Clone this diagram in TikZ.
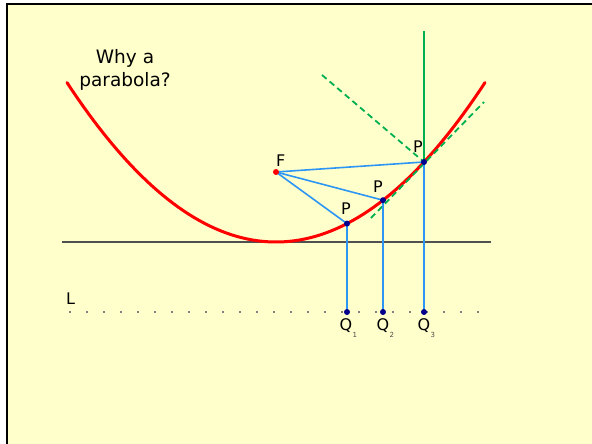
\documentclass[tikz,border=0pt]{standalone}
\usepackage{fontspec}
\setmainfont{DejaVu Sans}
\definecolor{bgyel}{RGB}{255,255,204}
\definecolor{raybl}{RGB}{45,150,245}
\definecolor{grnl}{RGB}{0,176,80}
\definecolor{navy}{RGB}{0,0,140}
\definecolor{hgray}{RGB}{80,80,80}
\begin{document}
\begin{tikzpicture}[x=1pt,y=-1pt,
  lbl/.style={font=\fontsize{16}{18}\selectfont, text=black, inner sep=0pt},
  sub/.style={font=\fontsize{7}{8}\selectfont, text=black!70, inner sep=0pt},
  ray/.style={draw=raybl, line width=1.6pt},
  grn/.style={draw=grnl, line width=2pt},
  pt/.style={circle, fill=navy, inner sep=0pt, minimum size=6pt}
]
\useasboundingbox (0,0) rectangle (592,444);
\fill[white] (0,0) rectangle (592,444);
\fill[bgyel] (7,4.5) rectangle (592,444);
\draw[black, line width=2pt] (7,444) -- (7,4.5) -- (592,4.5);

% title
\node[font=\fontsize{18.5}{23}\selectfont, align=center] (title) at (125,70) {Why a\\parabola?};

% tangent at vertex
\draw[hgray, line width=1.3pt] (62,242) coordinate (h1) -- (491,242) coordinate (h2);

% directrix
\coordinate (L1) at (69,312);
\coordinate (L2) at (490,312);
\draw[gray, line width=1.6pt, dash pattern=on 2pt off 15pt] (L1) -- (L2);
\node[lbl, anchor=south west] (Llab) at (66,305) {L};

% parabola
\draw[red, line width=3pt, line cap=round] plot[domain=-209:209, samples=80] ({276+\x},{242-36.5*(\x/100)^2});

% points
\coordinate (F) at (276,172);
\coordinate (P1) at (347,223.6);
\coordinate (P2) at (383,200.2);
\coordinate (P3) at (424,162);
\coordinate (Q1) at (347,312);
\coordinate (Q2) at (383,312);
\coordinate (Q3) at (424,312);

% green lines
\coordinate (gtop) at (424,31);
\coordinate (gd1) at (322,75);
\coordinate (gt1) at (371,218);
\coordinate (gt2) at (484,102);
\draw[grn] (gtop) -- (P3);
\draw[grn, dash pattern=on 6pt off 4pt, line width=1.8pt] (gd1) -- (P3);
\draw[grn, dash pattern=on 6pt off 4pt, line width=1.8pt] (gt1) -- (gt2);

% rays
\draw[ray] (F) -- (P1);
\draw[ray] (F) -- (P2);
\draw[ray] (F) -- (P3);
\draw[ray] (P1) -- (Q1);
\draw[ray] (P2) -- (Q2);
\draw[ray] (P3) -- (Q3);

% dots
\node[circle, fill=red, inner sep=0pt, minimum size=6pt] (Fd) at (F) {};
\foreach \n in {P1,P2,P3,Q1,Q2,Q3} \node[pt] (\n d) at (\n) {};

% labels
\node[lbl, anchor=south west] (Flab) at (276,167) {F};
\node[lbl, anchor=south] (P1lab) at (346,215) {P};
\node[lbl, anchor=south] (P2lab) at (378,193) {P};
\node[lbl, anchor=south] (P3lab) at (418,153) {P};
\node[lbl, anchor=north] (Q1lab) at (346,318) {Q};
\node[lbl, anchor=north] (Q2lab) at (383,318) {Q};
\node[lbl, anchor=north] (Q3lab) at (424,318) {Q};
\node[sub, anchor=north west] (s1) at (Q1lab.south east) {1};
\node[sub, anchor=north west] (s2) at (Q2lab.south east) {2};
\node[sub, anchor=north west] (s3) at (Q3lab.south east) {3};
\end{tikzpicture}
\end{document}
